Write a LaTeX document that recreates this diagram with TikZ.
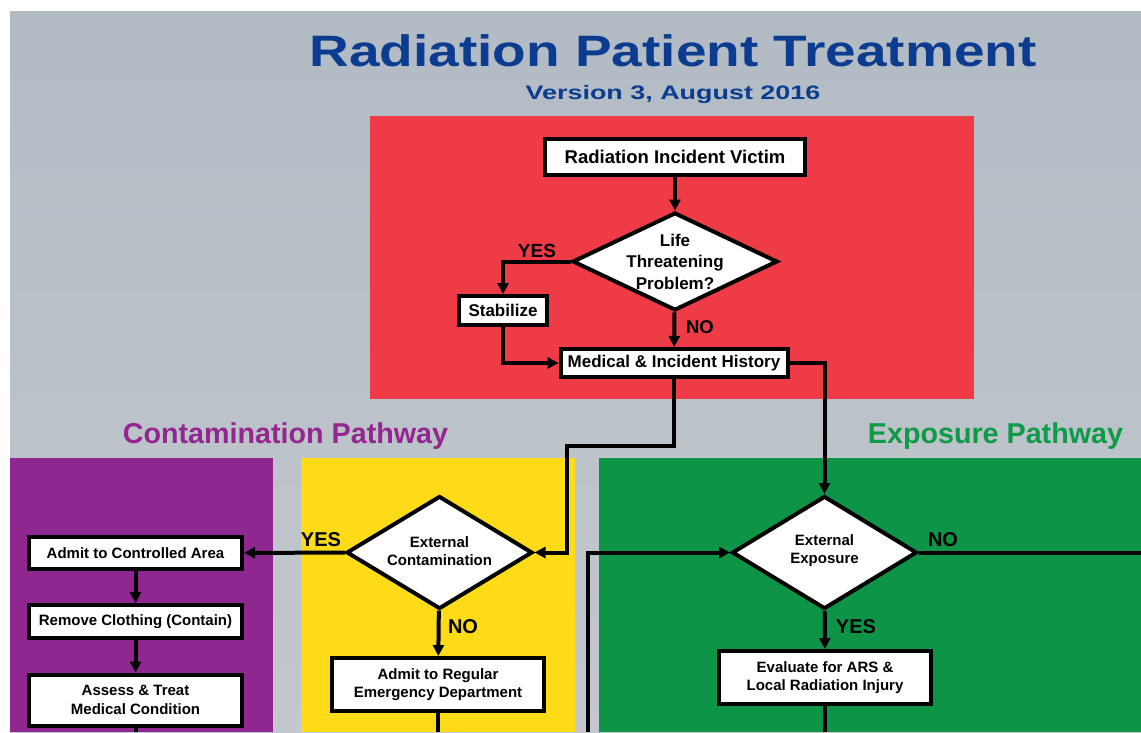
\documentclass[tikz,border=0pt]{standalone}
\usepackage{fontspec}
\setmainfont{Liberation Sans}
\usepackage{graphicx}
\usetikzlibrary{shapes.geometric,arrows.meta}
\definecolor{titleblue}{HTML}{0B3C8F}
\definecolor{bgtop}{HTML}{B2BBC4}
\definecolor{bgbot}{HTML}{C2C8CD}
\definecolor{lifered}{HTML}{EE3B46}
\definecolor{contpurple}{HTML}{8E278F}
\definecolor{contyellow}{HTML}{FDDB17}
\definecolor{expgreen}{HTML}{0D9446}
\definecolor{purpletext}{HTML}{93278F}
\definecolor{greentext}{HTML}{0E9A48}

\begin{document}
\begin{tikzpicture}[x=1pt,y=-1pt,
  box/.style={draw=black,line width=4pt,fill=white,inner sep=0pt,align=center,font=\bfseries\fontsize{17}{20}\selectfont},
  smallbox/.style={box,font=\bfseries\fontsize{15}{18.3}\selectfont},
  dia/.style={diamond,draw=black,line width=4pt,fill=white,inner sep=0pt},
  diatext/.style={align=center,inner sep=0pt,font=\bfseries\fontsize{15}{18}\selectfont},
  arr/.style={line width=4pt,-{Triangle[length=11pt,width=11pt]}},
  wire/.style={line width=4pt},
  yn/.style={anchor=base,inner sep=0pt,font=\bfseries\fontsize{20}{20}\selectfont},
  pathtitle/.style={anchor=base,inner sep=0pt,font=\bfseries\fontsize{28.7}{30}\selectfont}]
\useasboundingbox (0,0) rectangle (1141,732);
\fill[white] (0,0) rectangle (1141,732);
\shade[top color=bgtop,bottom color=bgbot] (10,11) rectangle (1141,732);
\fill[lifered] (370,116) rectangle (974,399);
\fill[contpurple] (10,458) rectangle (273,732);
\fill[contyellow] (301,458) rectangle (575,732);
\fill[expgreen] (599,458) rectangle (1141,732);

\node[anchor=base,inner sep=0pt,text=titleblue,font=\bfseries\fontsize{44}{46}\selectfont] (title) at (673,66) {\scalebox{1.25}[1]{Radiation Patient Treatment}};
\node[anchor=base,inner sep=0pt,text=titleblue,font=\bfseries\fontsize{19.5}{21}\selectfont] (version) at (673,99) {\scalebox{1.38}[1]{Version 3, August 2016}};
\node[pathtitle,text=purpletext] (contpath) at (285.5,443) {Contamination Pathway};
\node[pathtitle,text=greentext] (exppath) at (995.5,443) {Exposure Pathway};

\node[box,minimum width=260pt,minimum height=36pt,font=\bfseries\fontsize{18.5}{20}\selectfont] (victim) at (675,157) {Radiation Incident Victim};
\node[dia,minimum width=205pt,minimum height=98pt] (life) at (675,261.5) {};
\node[diatext,font=\bfseries\fontsize{17}{21.5}\selectfont] (lifetext) at (life.center) {Life\\Threatening\\Problem?};
\node[box,minimum width=88pt,minimum height=29pt] (stab) at (503,310.5) {Stabilize};
\node[box,minimum width=227pt,minimum height=28pt] (history) at (674,363) {Medical \& Incident History};

\node[dia,minimum width=186pt,minimum height=113pt] (extc) at (439.5,552.5) {};
\node[diatext] (extctext) at (439.5,551) {External\\Contamination};
\node[smallbox,minimum width=213pt,minimum height=32pt] (admit) at (135.5,553) {Admit to Controlled Area};
\node[smallbox,minimum width=213pt,minimum height=33pt] (remove) at (135.5,621.5) {Remove Clothing (Contain)};
\node[smallbox,minimum width=213pt,minimum height=51pt] (assess) at (135.5,700) {Assess \& Treat\\Medical Condition};
\node[smallbox,minimum width=212pt,minimum height=53pt] (regular) at (438,684.5) {Admit to Regular\\Emergency Department};

\node[dia,minimum width=185pt,minimum height=113pt] (extx) at (824.5,552.5) {};
\node[diatext] (extxtext) at (824.5,551) {External\\Exposure};
\node[smallbox,minimum width=212pt,minimum height=53pt] (evaluate) at (825,677.5) {Evaluate for ARS \&\\Local Radiation Injury};

\coordinate (bendc) at (567,446);
\coordinate (loopin) at (588,732);
\coordinate (noout) at (1141,552.5);

\draw[arr] (victim) -- (life);
\draw[arr] (life.west) -| (stab.north);
\draw[arr] (life) -- (history);
\draw[arr] (stab.south) |- (history.west);
\draw[arr] (history.south) |- (bendc) |- (extc.east);
\draw[arr] (history.east) -| (extx.north);
\draw[arr] (extc) -- (admit);
\draw[arr] (admit) -- (remove);
\draw[arr] (remove) -- (assess);
\draw[wire] (assess.south) -- (assess.south |- loopin);
\draw[arr] (extc) -- (regular);
\draw[wire] (regular.south) -- (regular.south |- loopin);
\draw[arr] (loopin) |- (extx.west);
\draw[wire] (extx.east) -- (noout);
\draw[arr] (extx) -- (evaluate);
\draw[wire] (evaluate.south) -- (evaluate.south |- loopin);

\node[yn,font=\bfseries\fontsize{19}{19}\selectfont] (yeslife) at (537,257) {YES};
\node[yn,font=\bfseries\fontsize{18.5}{19}\selectfont] (nolife) at (700,333) {NO};
\node[yn] (yesextc) at (321,546) {YES};
\node[yn] (noextc) at (463,633) {NO};
\node[yn] (noextx) at (943,546) {NO};
\node[yn] (yesextx) at (856,633) {YES};
\end{tikzpicture}
\end{document}
